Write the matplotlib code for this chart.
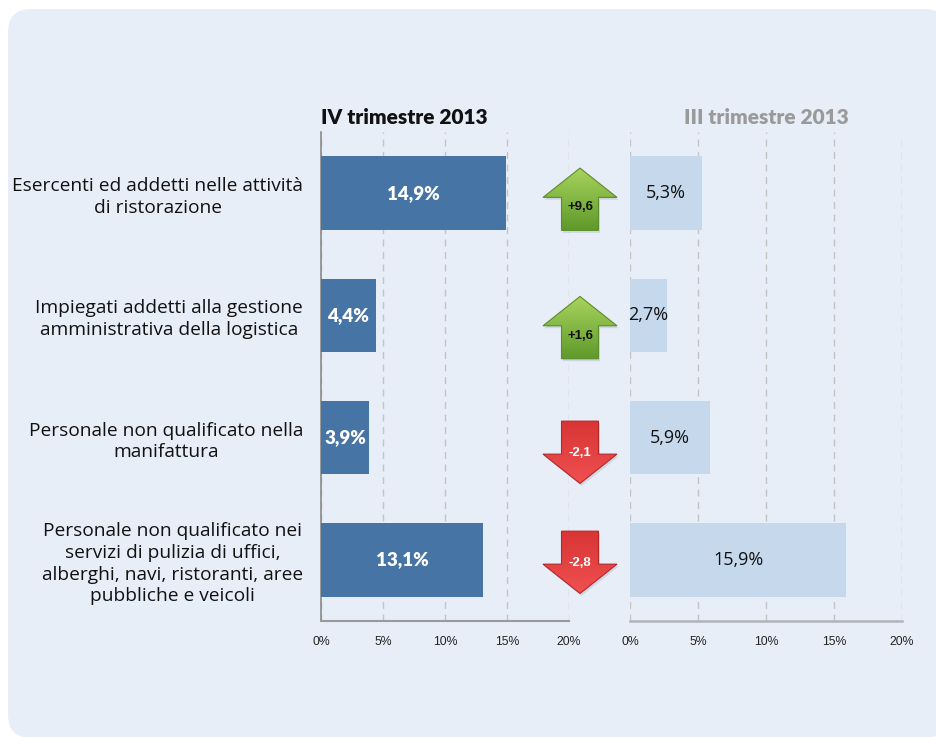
import matplotlib
matplotlib.use("Agg")
import matplotlib.pyplot as plt
import numpy as np
from matplotlib.patches import FancyBboxPatch, Polygon
import matplotlib.colors as mcolors

categories = [
    "Esercenti ed addetti nelle attività\ndi ristorazione",
    "Impiegati addetti alla gestione\namministrativa della logistica",
    "Personale non qualificato nella\nmanifattura",
    "Personale non qualificato nei\nservizi di pulizia di uffici,\nalberghi, navi, ristoranti, aree\npubbliche e veicoli",
]
q4_values = [14.9, 4.4, 3.9, 13.1]
q3_values = [5.3, 2.7, 5.9, 15.9]
diff_labels = ["+9,6", "+1,6", "-2,1", "-2,8"]
xticks = [0, 5, 10, 15, 20]
xtick_labels = ["0%", "5%", "10%", "15%", "20%"]
title_left = "IV trimestre 2013"
title_right = "III trimestre 2013"

W, H = 936, 737
fig = plt.figure(figsize=(W / 100, H / 100), dpi=100)
fig.patch.set_facecolor("white")

BG = "#E8EEF8"
panel = FancyBboxPatch((8 / W, (H - 738) / H), 940 / W, 729 / H,
                       boxstyle="round,pad=0,rounding_size=0.025",
                       transform=fig.transFigure, facecolor=BG, edgecolor="none",
                       mutation_aspect=W / H, zorder=-5)
fig.patches.append(panel)

def fx(px):
    return px / W

ax_top, ax_bot = 132, 621
bottom = 1 - ax_bot / H
height = (ax_bot - ax_top) / H

axL = fig.add_axes([fx(321), bottom, fx(569 - 321), height])
axR = fig.add_axes([fx(630), bottom, fx(902 - 630), height])
axM = fig.add_axes([fx(535), bottom, fx(90), height])

y = np.arange(len(categories))
label_font = "Open Sans"
title_font = "Lato"

for ax in (axL, axR):
    ax.set_facecolor("none")
    ax.set_xlim(0, 20)
    ax.set_ylim(len(categories) - 0.5, -0.5)
    ax.set_xticks(xticks)
    ax.set_xticklabels(xtick_labels, fontfamily="Liberation Sans", fontsize=8.8, color="#222222")
    ax.tick_params(axis="x", length=0, pad=11)
    ax.grid(axis="x", color="#C4C4C4", linestyle=(0, (5, 4)), linewidth=1.0)
    ax.set_axisbelow(True)
    for s in ("top", "right"):
        ax.spines[s].set_visible(False)

axL.spines["left"].set_color("#8A8A8A")
axL.spines["left"].set_linewidth(1.2)
axL.spines["bottom"].set_color("#9A9A9A")
axL.spines["bottom"].set_linewidth(1.5)
axR.spines["left"].set_visible(False)
axR.spines["bottom"].set_color("#B0B4BA")
axR.spines["bottom"].set_linewidth(1.8)

bl = axL.barh(y, q4_values, height=0.6, color="#4674A5", zorder=3)
br = axR.barh(y, q3_values, height=0.6, color="#C5D8EC", zorder=3)

for yi, v in zip(y, q4_values):
    axL.text(v / 2, yi, f"{v:.1f}%".replace(".", ","), ha="center", va="center",
             color="white", fontsize=13.5, fontweight="heavy", fontfamily=title_font, zorder=4)
for yi, v in zip(y, q3_values):
    axR.text(v / 2, yi, f"{v:.1f}%".replace(".", ","), ha="center", va="center",
             color="#111111", fontsize=13, fontfamily=label_font, zorder=4)

axL.set_yticks(y)
axL.set_yticklabels(categories, fontfamily=label_font, fontsize=13.8, color="#111111",
                    multialignment="center", linespacing=1.27)
axL.tick_params(axis="y", length=0, pad=13)
axR.set_yticks([])

axL.text(0, 1 + 8 / 489, title_left, transform=axL.transAxes, ha="left", va="baseline",
         fontsize=15, fontweight="heavy", fontfamily=title_font, color="#111111")
axR.text(0.5, 1 + 8 / 489, title_right, transform=axR.transAxes, ha="center", va="baseline",
         fontsize=15, fontweight="heavy", fontfamily=title_font, color="#9A9A9A")

# arrows
axM.set_xlim(0, 90)
axM.set_ylim(len(categories) - 0.5, -0.5)
axM.axis("off")
axM.patch.set_visible(False)

upx = 8 + 37
head_w, shaft_w = 74, 37
tot_h, head_h = 0.51, 0.24
arrow_offsets = [0.05, 0.1, 0.12, 0.02]
for yi, q4, q3, lab, off in zip(y, q4_values, q3_values, diff_labels, arrow_offsets):
    diff = q4 - q3
    cx = upx
    cy = yi + off
    top = cy - tot_h / 2
    bot = cy + tot_h / 2
    if diff > 0:
        pts = [(cx, top), (cx + head_w / 2, top + head_h), (cx + shaft_w / 2, top + head_h),
               (cx + shaft_w / 2, bot), (cx - shaft_w / 2, bot), (cx - shaft_w / 2, top + head_h),
               (cx - head_w / 2, top + head_h)]
        c_top, c_bot, edge, tcol = "#A9D35E", "#5F9A2B", "#5A8E2A", "#111111"
        ty = top + head_h + (bot - top - head_h) * 0.3
    else:
        pts = [(cx - shaft_w / 2, top), (cx + shaft_w / 2, top), (cx + shaft_w / 2, bot - head_h),
               (cx + head_w / 2, bot - head_h), (cx, bot), (cx - head_w / 2, bot - head_h),
               (cx - shaft_w / 2, bot - head_h)]
        c_top, c_bot, edge, tcol = "#D83434", "#F05050", "#B52828", "white"
        ty = bot - head_h - 0.01
    sh = Polygon([(px + 1.5, py + 0.02) for px, py in pts], closed=True,
                 facecolor="#8090A0", alpha=0.25, edgecolor="none", zorder=2)
    axM.add_patch(sh)
    poly = Polygon(pts, closed=True, facecolor="none", edgecolor=edge, linewidth=0.8, zorder=4)
    axM.add_patch(poly)
    cmap = mcolors.LinearSegmentedColormap.from_list("g", [c_top, c_bot])
    grad = np.linspace(0, 1, 100).reshape(-1, 1)
    im = axM.imshow(grad, cmap=cmap, extent=(cx - head_w / 2, cx + head_w / 2, bot, top),
                    aspect="auto", zorder=3)
    im.set_clip_path(poly)
    axM.text(cx, ty, lab, ha="center", va="center", color=tcol, fontsize=9.5,
             fontweight="bold", fontfamily="Liberation Sans", zorder=5)

axM.set_xlim(0, 90)
axM.set_ylim(len(categories) - 0.5, -0.5)

fig.savefig("out.png", dpi=100, facecolor="white")
